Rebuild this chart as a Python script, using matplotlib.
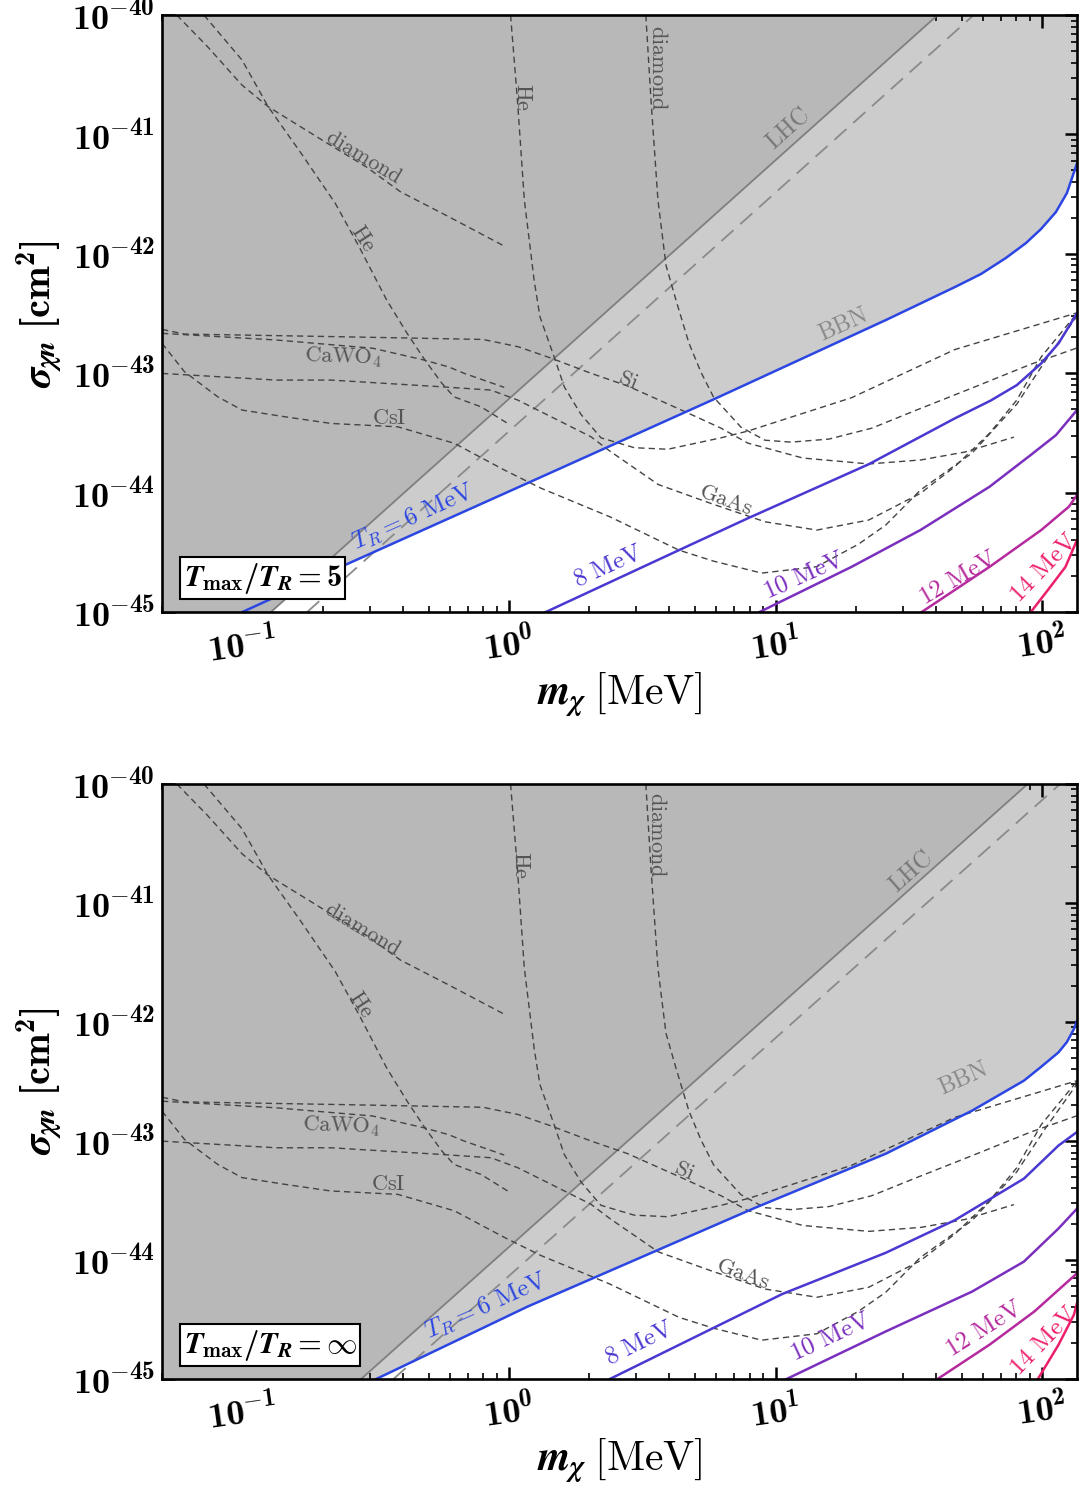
import numpy as np
import matplotlib.pyplot as plt
from matplotlib.ticker import LogLocator, FuncFormatter, NullFormatter

# bold Computer Modern for ticks/axis labels via the custom math set,
# plain 'cm' is requested explicitly for the in-plot labels
plt.rcParams['mathtext.fontset'] = 'custom'
plt.rcParams['mathtext.rm'] = 'cmb10'
plt.rcParams['mathtext.bf'] = 'cmb10'
plt.rcParams['mathtext.it'] = 'STIXGeneral:italic:bold'
plt.rcParams['mathtext.sf'] = 'cmr10'
plt.rcParams['mathtext.fallback'] = 'cm'
plt.rcParams['font.family'] = ['DejaVu Serif']
plt.rcParams['axes.unicode_minus'] = True

# ---- experimental limits (same in both panels); m in MeV, sigma in cm^2
diamond_lo_m = [0.0568, 0.0741, 0.0998, 0.125, 0.204, 0.291, 0.392, 0.594, 0.962]
diamond_lo_s = [1.0e-40, 5.43e-41, 2.59e-41, 1.71e-41, 8.69e-42, 5.37e-42, 3.31e-42, 2.05e-42, 1.16e-42]

he_lo_m = [0.0718, 0.0998, 0.125, 0.166, 0.223, 0.274, 0.348, 0.415, 0.484, 0.561, 0.622, 0.785, 0.989]
he_lo_s = [1.0e-40, 4.20e-41, 1.71e-41, 6.98e-42, 2.66e-42, 1.15e-42, 4.10e-43, 2.16e-43,
           1.29e-43, 8.22e-44, 6.35e-44, 5.24e-44, 3.80e-44]

cawo4_m = [0.05, 0.134, 0.309, 0.481, 0.594, 0.680, 0.960]
cawo4_s = [2.16e-43, 1.90e-43, 1.62e-43, 1.29e-43, 1.13e-43, 9.98e-44, 7.62e-44]

si_m = [0.05, 0.0607, 0.243, 0.799, 1.081, 1.437, 2.03, 2.79, 4.61, 6.24, 7.87, 12.65, 22.4, 35.1, 51.3, 78.3]
si_s = [2.33e-43, 2.13e-43, 2.02e-43, 1.92e-43, 1.67e-43, 1.34e-43, 1.00e-43, 7.82e-44,
        4.73e-44, 3.47e-44, 2.60e-44, 1.95e-44, 1.74e-44, 1.88e-44, 2.19e-44, 2.92e-44]

he_hi_m = [1.014, 1.076, 1.142, 1.244, 1.307, 1.481, 1.612, 1.862, 2.213, 2.951, 3.94, 6.24, 7.87, 19.26, 47.0, 135.0]
he_hi_s = [1.0e-40, 1.94e-41, 2.83e-42, 5.92e-43, 2.97e-43, 1.35e-43, 7.71e-44, 4.53e-44,
           2.88e-44, 2.38e-44, 2.31e-44, 2.88e-44, 3.28e-44, 6.24e-44, 1.58e-43, 3.21e-43]

diamond_hi_m = [3.26, 3.41, 3.62, 3.88, 4.23, 4.73, 5.25, 5.85, 7.41, 9.12, 11.41, 15.85, 22.96, 33.0, 54.5, 90.6, 135.0]
diamond_hi_s = [1.0e-40, 1.94e-41, 2.83e-42, 8.05e-43, 4.10e-43, 1.79e-43, 1.02e-43, 6.32e-44, 3.54e-44,
                2.75e-44, 2.65e-44, 2.81e-44, 3.47e-44, 4.82e-44, 7.52e-44, 1.19e-43, 1.63e-43]

gaas_m = [0.05, 0.134, 0.215, 0.556, 0.856, 1.078, 1.437, 2.03, 2.39, 3.63, 5.85, 9.14, 14.28,
          22.35, 34.9, 47.0, 63.4, 80.3, 99.1, 135.0]
gaas_s = [9.97e-44, 8.77e-44, 8.77e-44, 7.71e-44, 7.23e-44, 5.97e-44, 4.33e-44, 2.94e-44, 2.23e-44,
          1.17e-44, 7.98e-45, 5.70e-45, 4.86e-45, 5.90e-45, 9.86e-45, 1.65e-44, 3.14e-44, 5.97e-44,
          1.37e-43, 3.18e-43]

csi_m = [0.05, 0.0607, 0.0809, 0.0998, 0.1437, 0.215, 0.383, 0.624, 0.960, 1.318, 2.39, 4.34, 5.85,
         8.87, 14.28, 20.4, 25.9, 34.9, 54.6, 80.3, 103.1, 135.0]
csi_s = [1.78e-43, 1.03e-43, 6.35e-44, 4.92e-44, 4.33e-44, 3.80e-44, 3.56e-44, 2.59e-44, 1.55e-44,
         1.09e-44, 6.28e-45, 3.30e-45, 2.67e-45, 2.12e-45, 2.40e-45, 3.69e-45, 5.36e-45, 1.05e-44,
         2.15e-44, 5.52e-44, 1.29e-43, 3.01e-43]

# ---- LHC bound (solid) and its dashed variant, per panel
lhc_s = [1.0e-45, 1.0e-40]
lhc_top_m = [0.128, 40.5]
lhc_dash_top_m = [0.175, 55.3]
lhc_bot_m = [0.279, 88.2]
lhc_dash_bot_m = [0.369, 116.7]

# ---- BBN curves for T_R = 6..14 MeV, top panel (T_max/T_R = 5)
t6_top_m = [0.1, 0.243, 1.318, 5.85, 25.9, 47.0, 58.9, 73.0, 86.8, 98.8, 112.5, 123.7, 135.0]
t6_top_s = [1.0e-45, 2.48e-45, 1.35e-44, 6.04e-44, 2.79e-43, 5.27e-43, 6.78e-43, 9.23e-43,
            1.23e-42, 1.61e-42, 2.24e-42, 3.23e-42, 5.73e-42]
t8_top_m = [1.374, 4.34, 7.87, 22.35, 47.0, 64.0, 80.3, 99.1, 115.1, 135.0]
t8_top_s = [1.0e-45, 3.30e-45, 6.10e-45, 1.73e-44, 4.19e-44, 5.90e-44, 7.96e-44, 1.21e-43, 1.78e-43, 3.18e-43]
t10_top_m = [8.70, 19.26, 34.9, 63.4, 90.6, 112.5, 135.0]
t10_top_s = [1.0e-45, 2.39e-45, 4.86e-45, 1.12e-44, 2.07e-44, 3.03e-44, 4.92e-44]
t12_top_m = [35.3, 63.4, 99.1, 125.8, 135.0]
t12_top_s = [1.0e-45, 2.39e-45, 4.86e-45, 7.62e-45, 9.55e-45]
t14_top_m = [90.6, 105.0, 122.2, 135.0]
t14_top_s = [1.0e-45, 1.53e-45, 2.39e-45, 4.01e-45]

# ---- bottom panel (T_max/T_R = inf)
t6_bot_m = [0.318, 1.175, 3.61, 8.36, 25.9, 54.6, 85.3, 98.8, 115.1, 123.7, 131.4, 135.0]
t6_bot_s = [1.0e-45, 4.06e-45, 1.21e-44, 2.74e-44, 7.82e-44, 1.80e-43, 3.21e-43, 4.18e-43,
            5.56e-43, 6.78e-43, 8.71e-43, 1.02e-42]
t8_bot_m = [2.39, 10.6, 25.9, 47.0, 85.3, 115.1, 135.0]
t8_bot_s = [1.0e-45, 5.18e-45, 1.15e-44, 2.16e-44, 4.82e-44, 9.16e-44, 1.19e-43]
t10_bot_m = [11.0, 25.9, 54.6, 85.3, 115.1, 135.0]
t10_bot_s = [1.0e-45, 2.51e-45, 5.43e-45, 9.68e-45, 1.84e-44, 2.70e-44]
t12_bot_m = [40.5, 63.4, 93.4, 135.0]
t12_bot_s = [1.0e-45, 1.94e-45, 3.69e-45, 7.73e-45]
t14_bot_m = [96.3, 115.1, 131.4, 135.0]
t14_bot_s = [1.0e-45, 1.94e-45, 3.46e-45, 4.33e-45]

tr_colors = ['#2b46e2', '#4a38d2', '#7b2fbf', '#b52a9e', '#ec1f6c']
tr_names = [r'$T_R = 6\ \mathrm{MeV}$', r'$8\ \mathrm{MeV}$', r'$10\ \mathrm{MeV}$',
            r'$12\ \mathrm{MeV}$', r'$14\ \mathrm{MeV}$']

x_ticks = [0.1, 1.0, 10.0, 100.0]
y_ticks = [1e-45, 1e-44, 1e-43, 1e-42, 1e-41, 1e-40]

XMIN, XMAX = 0.05, 135.0
YMIN, YMAX = 1e-45, 1e-40

exp_curves = [(diamond_lo_m, diamond_lo_s), (he_lo_m, he_lo_s), (cawo4_m, cawo4_s), (si_m, si_s),
              (he_hi_m, he_hi_s), (diamond_hi_m, diamond_hi_s), (gaas_m, gaas_s), (csi_m, csi_s)]

panels = [
    dict(rect=[0.1499, 0.5906, 0.8464, 0.3993], lhc=lhc_top_m, lhc_dash=lhc_dash_top_m,
         tr=[(t6_top_m, t6_top_s), (t8_top_m, t8_top_s), (t10_top_m, t10_top_s),
             (t12_top_m, t12_top_s), (t14_top_m, t14_top_s)],
         tr_lab=[(0.437, 6.25e-45, 24), (2.35, 2.43e-45, 24), (12.8, 2.04e-45, 24),
                 (48.3, 1.93e-45, 30), (101.4, 2.34e-45, 46)],
         exp_lab=[('diamond', 0.286, 6.47e-42, -31), ('He', 0.284, 1.36e-42, -57),
                  ('He', 1.128, 2.06e-41, -90), ('diamond', 3.62, 3.60e-41, -90),
                  ('CaWO_4', 0.239, 1.37e-43, -2), ('CsI', 0.355, 4.21e-44, 0),
                  ('Si', 2.79, 8.77e-44, -22), ('GaAs', 6.51, 8.67e-45, -20)],
         lhc_lab=(11.1, 1.13e-41), bbn_lab=(17.9, 2.54e-43),
         box=r'$T_{\mathrm{max}}/T_R = 5$'),
    dict(rect=[0.1499, 0.0776, 0.8464, 0.3980], lhc=lhc_bot_m, lhc_dash=lhc_dash_bot_m,
         tr=[(t6_bot_m, t6_bot_s), (t8_bot_m, t8_bot_s), (t10_bot_m, t10_bot_s),
             (t12_bot_m, t12_bot_s), (t14_bot_m, t14_bot_s)],
         tr_lab=[(0.82, 4.08e-45, 24), (3.07, 2.00e-45, 26), (16.1, 2.29e-45, 25),
                 (60.4, 2.67e-45, 32), (101.4, 2.12e-45, 46)],
         exp_lab=[('diamond', 0.284, 5.98e-42, -31), ('He', 0.279, 1.41e-42, -57),
                  ('He', 1.109, 2.10e-41, -90), ('diamond', 3.59, 3.74e-41, -90),
                  ('CaWO_4', 0.235, 1.34e-43, -2), ('CsI', 0.352, 4.39e-44, 0),
                  ('Si', 4.53, 5.62e-44, -24), ('GaAs', 7.54, 7.57e-45, -20)],
         lhc_lab=(32.2, 1.83e-41), bbn_lab=(50.8, 3.32e-43),
         box=r'$T_{\mathrm{max}}/T_R = \infty$'),
]

fig = plt.figure(figsize=(10.81, 14.95), dpi=100)

for p in panels:
    ax = fig.add_axes(p['rect'])
    ax.set_xscale('log')
    ax.set_yscale('log')
    ax.set_xlim(XMIN, XMAX)
    ax.set_ylim(YMIN, YMAX)

    # light gray: above the T_R = 6 MeV (BBN) curve
    m6, s6 = p['tr'][0]
    poly_m = [XMIN] + list(m6) + [XMAX, XMIN]
    poly_s = [YMIN] + list(s6) + [YMAX, YMAX]
    ax.fill(poly_m, poly_s, color='#cccccc', lw=0, zorder=1)
    # dark gray: above the LHC line
    ax.fill([XMIN] + p['lhc'] + [XMIN], [YMIN] + lhc_s + [YMAX], color='#b8b8b8', lw=0, zorder=2)
    ax.plot(p['lhc'], lhc_s, color='#7f7f7f', lw=1.3, zorder=3)
    ax.plot(p['lhc_dash'], lhc_s, color='#8a8a8a', lw=1.3, ls=(0, (9, 5)), zorder=3)

    for m, s in exp_curves:
        ax.plot(m, s, color='#444444', lw=1.0, ls=(0, (4.5, 3)), zorder=4)

    for (m, s), c in zip(p['tr'], tr_colors):
        ax.plot(m, s, color=c, lw=1.8, zorder=5, solid_joinstyle='round')

    for (x, y, r), c, name in zip(p['tr_lab'], tr_colors, tr_names):
        ax.text(x, y, name, color=c, fontsize=18, rotation=r, ha='center', va='center',
                rotation_mode='anchor', math_fontfamily='cm', zorder=6)

    for name, x, y, r in p['exp_lab']:
        ax.text(x, y, r'$\mathrm{%s}$' % name, color='#555555', fontsize=16, rotation=r,
                ha='center', va='center', rotation_mode='anchor', math_fontfamily='cm', zorder=6)
    ax.text(*p['lhc_lab'], r'$\mathrm{LHC}$', color='#777777', fontsize=17, rotation=41.8,
            ha='center', va='center', rotation_mode='anchor', math_fontfamily='cm', zorder=6)
    ax.text(*p['bbn_lab'], r'$\mathrm{BBN}$', color='#888888', fontsize=17, rotation=24,
            ha='center', va='center', rotation_mode='anchor', math_fontfamily='cm', zorder=6)

    ax.text(0.0235, 0.057, p['box'], transform=ax.transAxes, fontsize=22, ha='left', va='center',
            zorder=7, bbox=dict(boxstyle='square,pad=0.12', fc='white', ec='black', lw=1.5))

    # ticks
    ax.set_xticks(x_ticks)
    ax.set_yticks(y_ticks)
    ax.xaxis.set_minor_locator(LogLocator(base=10, subs=np.arange(2, 10), numticks=10))
    ax.yaxis.set_minor_locator(LogLocator(base=10, subs=np.arange(2, 10), numticks=10))
    fmt = FuncFormatter(lambda v, _: r'$10^{%d}$' % int(round(np.log10(v))))
    ax.xaxis.set_major_formatter(fmt)
    ax.yaxis.set_major_formatter(fmt)
    ax.xaxis.set_minor_formatter(NullFormatter())
    ax.yaxis.set_minor_formatter(NullFormatter())
    ax.set_xlim(XMIN, XMAX)
    ax.set_ylim(YMIN, YMAX)
    ax.tick_params(which='both', direction='in', top=True, right=True, labelsize=26)
    ax.tick_params(which='major', length=9, width=1.8)
    ax.tick_params(which='minor', length=4.5, width=1.2)
    ax.tick_params(axis='x', pad=8)
    ax.tick_params(axis='y', pad=5)
    for lab in ax.get_xticklabels():
        lab.set_rotation(8)
    for sp in ax.spines.values():
        sp.set_linewidth(1.9)
        sp.set_zorder(10)

    ax.text(-0.133, 0.5, r'$\sigma_{\chi n}\ [\mathrm{cm}^{2}]$', transform=ax.transAxes,
            rotation=90, fontsize=29, ha='center', va='center')
    ax.text(0.5, -0.137, r'$m_{\chi}\ \mathsf{[MeV]}$', transform=ax.transAxes,
            fontsize=30, ha='center', va='center')

fig.savefig('out.png', dpi=100)
